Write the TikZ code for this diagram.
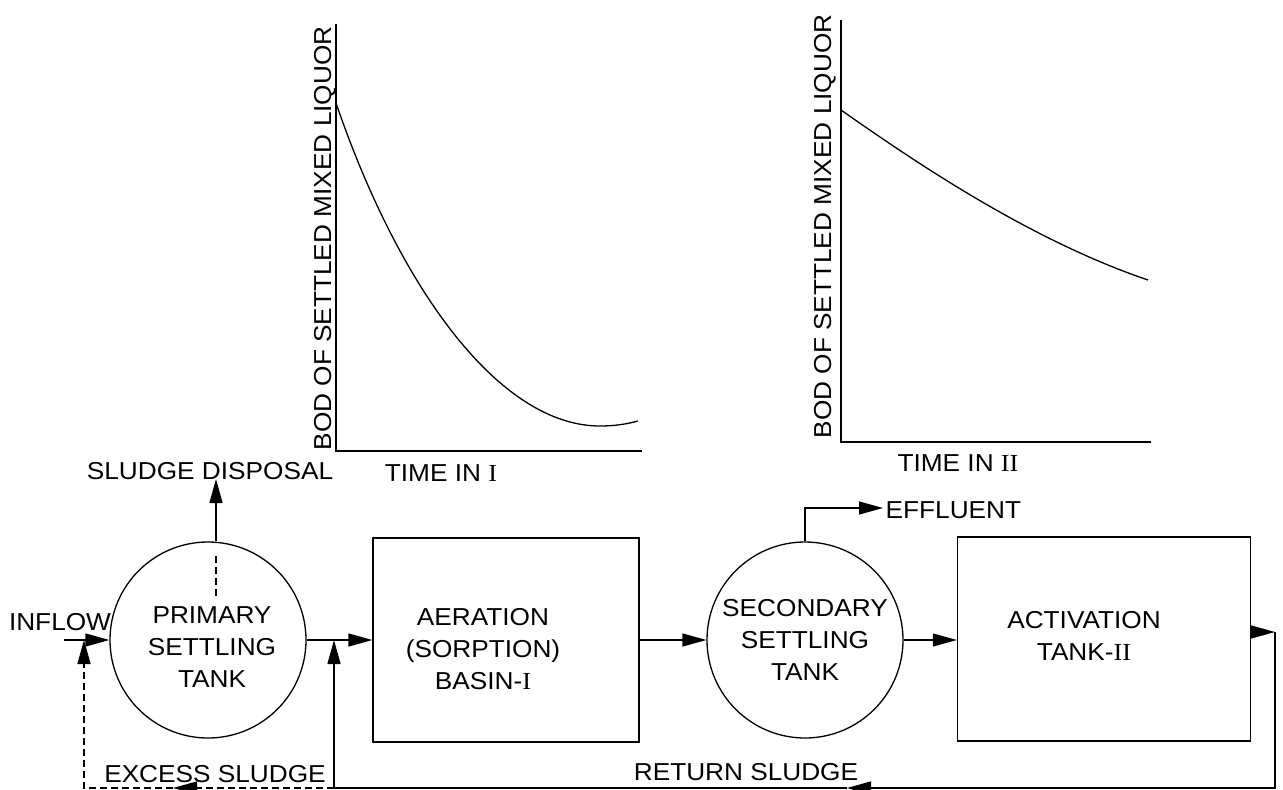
\documentclass[tikz,border=0pt]{standalone}
\usepackage{fontspec}
\setmainfont[FakeStretch=1.07]{Liberation Sans}
\newfontfamily\romnum[FakeStretch=1.07]{Liberation Serif}
\usepackage{tikz}
\usetikzlibrary{arrows.meta,positioning}
\newcommand{\rI}{{\romnum I}}
\newcommand{\rII}{{\romnum II}}

\begin{document}
\begin{tikzpicture}[x=1pt,y=-1pt,line width=1.3pt,>={Triangle[length=24pt,width=13pt]},
lbl/.style={inner sep=0pt,font=\fontsize{24.5}{32}\selectfont,align=center},
axislbl/.style={lbl,rotate=90,anchor=base west},
tank/.style={draw,circle,minimum size=196pt,inner sep=0pt},
basin/.style={draw,rectangle,inner sep=0pt,minimum height=204pt},
sludge/.style={dash pattern=on 7pt off 4pt}]
\useasboundingbox (0,0) rectangle (1283,790);
% graph I
\draw (336,24)--(336,451)--(642,451);
\draw (336,103) .. controls (400,290) and (500,426) .. (600,426) .. controls (615,426) and (627,424) .. (638,421);
\node[axislbl] (bodI) at (331,451) {BOD OF SETTLED MIXED LIQUOR};
\node[lbl] (timeI) at (441,473) {TIME IN \rI};
% graph II
\draw (841,20)--(841,442)--(1151,442);
\draw (841,110) .. controls (915,162) and (1030,240) .. (1148,280);
\node[axislbl] (bodII) at (831,439) {BOD OF SETTLED MIXED LIQUOR};
\node[lbl] (timeII) at (958,463) {TIME IN \rII};
% plant
\node[tank] (prim) at (208,640) {};
\node[lbl] (primtxt) at (212,647) {PRIMARY\\SETTLING\\TANK};
\node[basin,minimum width=266pt] (aer) at (506,640) {};
\node[lbl] (aertxt) at (483,649) {AERATION\\(SORPTION)\\BASIN-\rI};
\node[tank] (sec) at (805,640) {};
\node[lbl] (sectxt) at (805,640) {SECONDARY\\SETTLING\\TANK};
\node[basin,minimum width=293pt] (act) at (1104,639) {};
\node[lbl] (acttxt) at (1084,636) {ACTIVATION\\TANK-\rII};
\coordinate (in) at (64,640);
\coordinate (sd) at (216,479);
\coordinate (eff) at (883,508);
\coordinate (rc) at (1275,632);
\coordinate (rb) at (1275,788);
\coordinate (rm) at (847,788);
\coordinate (rs) at (334,788);
\coordinate (em) at (173,788);
\coordinate (ex) at (84,788);
\node[lbl] (inflow) at (60,622) {INFLOW};
\node[lbl] (disp) at (210,471) {SLUDGE DISPOSAL};
\node[lbl,anchor=west] (efftxt) at (885,510) {EFFLUENT};
\node[lbl] (extxt) at (215,774) {EXCESS SLUDGE};
\node[lbl] (rettxt) at (746,772) {RETURN SLUDGE};
% flow
\draw[->] (in)--(prim.west);
\draw[->] (prim.east)--(aer.west);
\draw[->] (aer.east)--(sec.west);
\draw[->] (sec.east)--(sec.east-|act.west);
\draw[->] (sec.north)|-(eff);
\draw[sludge] ([xshift=8pt,yshift=-15pt]prim.north)--++(0,40);
\draw[->] (sd|-prim.north)--(sd);
\draw[->] (act.east|-rc)--(rc);
\draw[->] (rc)--(rb)--(rm);
\draw[->] (rm)--(rs)--(rs|-in);
\draw[sludge,->] (rs)--(em);
\draw[sludge,->] (em)--(ex)--(ex|-in);
\end{tikzpicture}
\end{document}
